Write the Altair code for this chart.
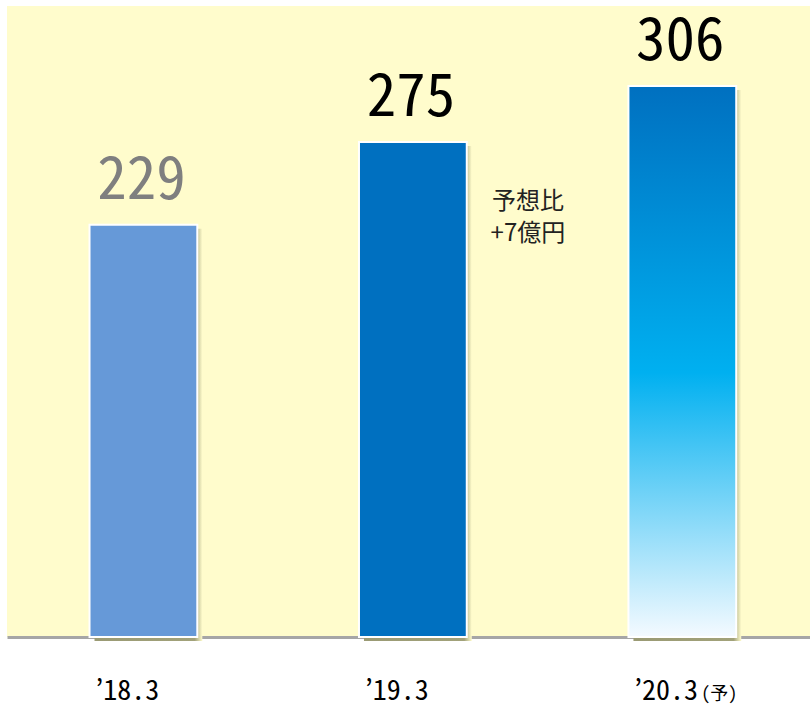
import altair as alt
import pandas as pd

periods = ["’18.3", "’19.3", "’20.3"]
values = [229, 275, 306]
notes = ["", "", "(予)"]
annotation_period = "’19.3"
annotation_text = ["予想比", "+7億円"]

df = pd.DataFrame({"period": periods, "value": values, "note": notes})

BG = "#FFFCCC"
NUMFONT = "Noto Sans Mono CJK JP, Noto Sans CJK JP, Liberation Sans"
x = alt.X("period:N", sort=periods,
          scale=alt.Scale(paddingInner=0.6, paddingOuter=0.29, align=0.528),
          axis=alt.Axis(title=None, labels=False, ticks=False,
                        domainColor="#A6A6A6", domainWidth=3))
y = alt.Y("value:Q", scale=alt.Scale(domain=[0, 350.5], nice=False),
          axis=None)

base = alt.Chart(df)

shadow = base.mark_bar(
    xOffset=5, yOffset=4,
    color=alt.Gradient(gradient="linear",
                       stops=[alt.GradientStop(offset=0, color="#9A9A74"),
                              alt.GradientStop(offset=0.93, color="#A2A27A"),
                              alt.GradientStop(offset=1, color=BG)],
                       x1=0, x2=1, y1=0, y2=0)
).encode(x=x, y=y)

solid = base.transform_filter(alt.datum.period != periods[2]).mark_bar(
    stroke="white", strokeWidth=2
).encode(
    x=x, y=y,
    fill=alt.Fill("period:N", scale=alt.Scale(domain=periods[:2], range=["#6699D8", "#0070C0"]), legend=None),
)

grad = base.transform_filter(alt.datum.period == periods[2]).mark_bar(
    stroke="white", strokeWidth=2,
    color=alt.Gradient(gradient="linear",
                       stops=[alt.GradientStop(offset=0, color="#0070C0"),
                              alt.GradientStop(offset=0.52, color="#00B0F0"),
                              alt.GradientStop(offset=1, color="#F4FAFF")],
                       x1=0, x2=0, y1=0, y2=1)
).encode(x=x, y=y)

vlabels = base.mark_text(
    font=NUMFONT, fontSize=59, baseline="alphabetic", dy=-26, dx=-2
).encode(
    x=x, y=y, text=alt.Text("value:Q"),
    color=alt.Color("period:N", scale=alt.Scale(domain=periods, range=["#7F7F7F", "#000000", "#000000"]), legend=None),
)

xlabels = base.mark_text(
    font=NUMFONT, fontSize=28, baseline="alphabetic", align="left",
    dx=-48, color="#000000"
).encode(x=x, y=alt.value(694), text="period:N")

xnotes = base.transform_filter(alt.datum.note != "").mark_text(
    font=NUMFONT, fontSize=18, baseline="alphabetic", align="left",
    dx=19, color="#000000"
).encode(x=x, y=alt.value(694), text="note:N")

ann_df = pd.DataFrame({"period": [annotation_period], "text": [annotation_text]})
annotation = alt.Chart(ann_df).mark_text(
    font="Noto Sans CJK JP", fontSize=24, lineHeight=32, align="center",
    baseline="middle", dx=115, color="#222222"
).encode(x=x, y=alt.value(196), text="text")

chart = alt.layer(shadow, solid, grad, vlabels, xlabels, xnotes, annotation).resolve_scale(
    color="independent", fill="independent"
).properties(
    width=803, height=631,
    autosize=alt.AutoSizeParams(type="none"),
    padding={"left": 7, "top": 6, "right": 0, "bottom": 68},
    background="white",
).configure_view(fill=BG, stroke=None)

chart.save("out.html", embed_options={"renderer": "svg", "actions": False})
